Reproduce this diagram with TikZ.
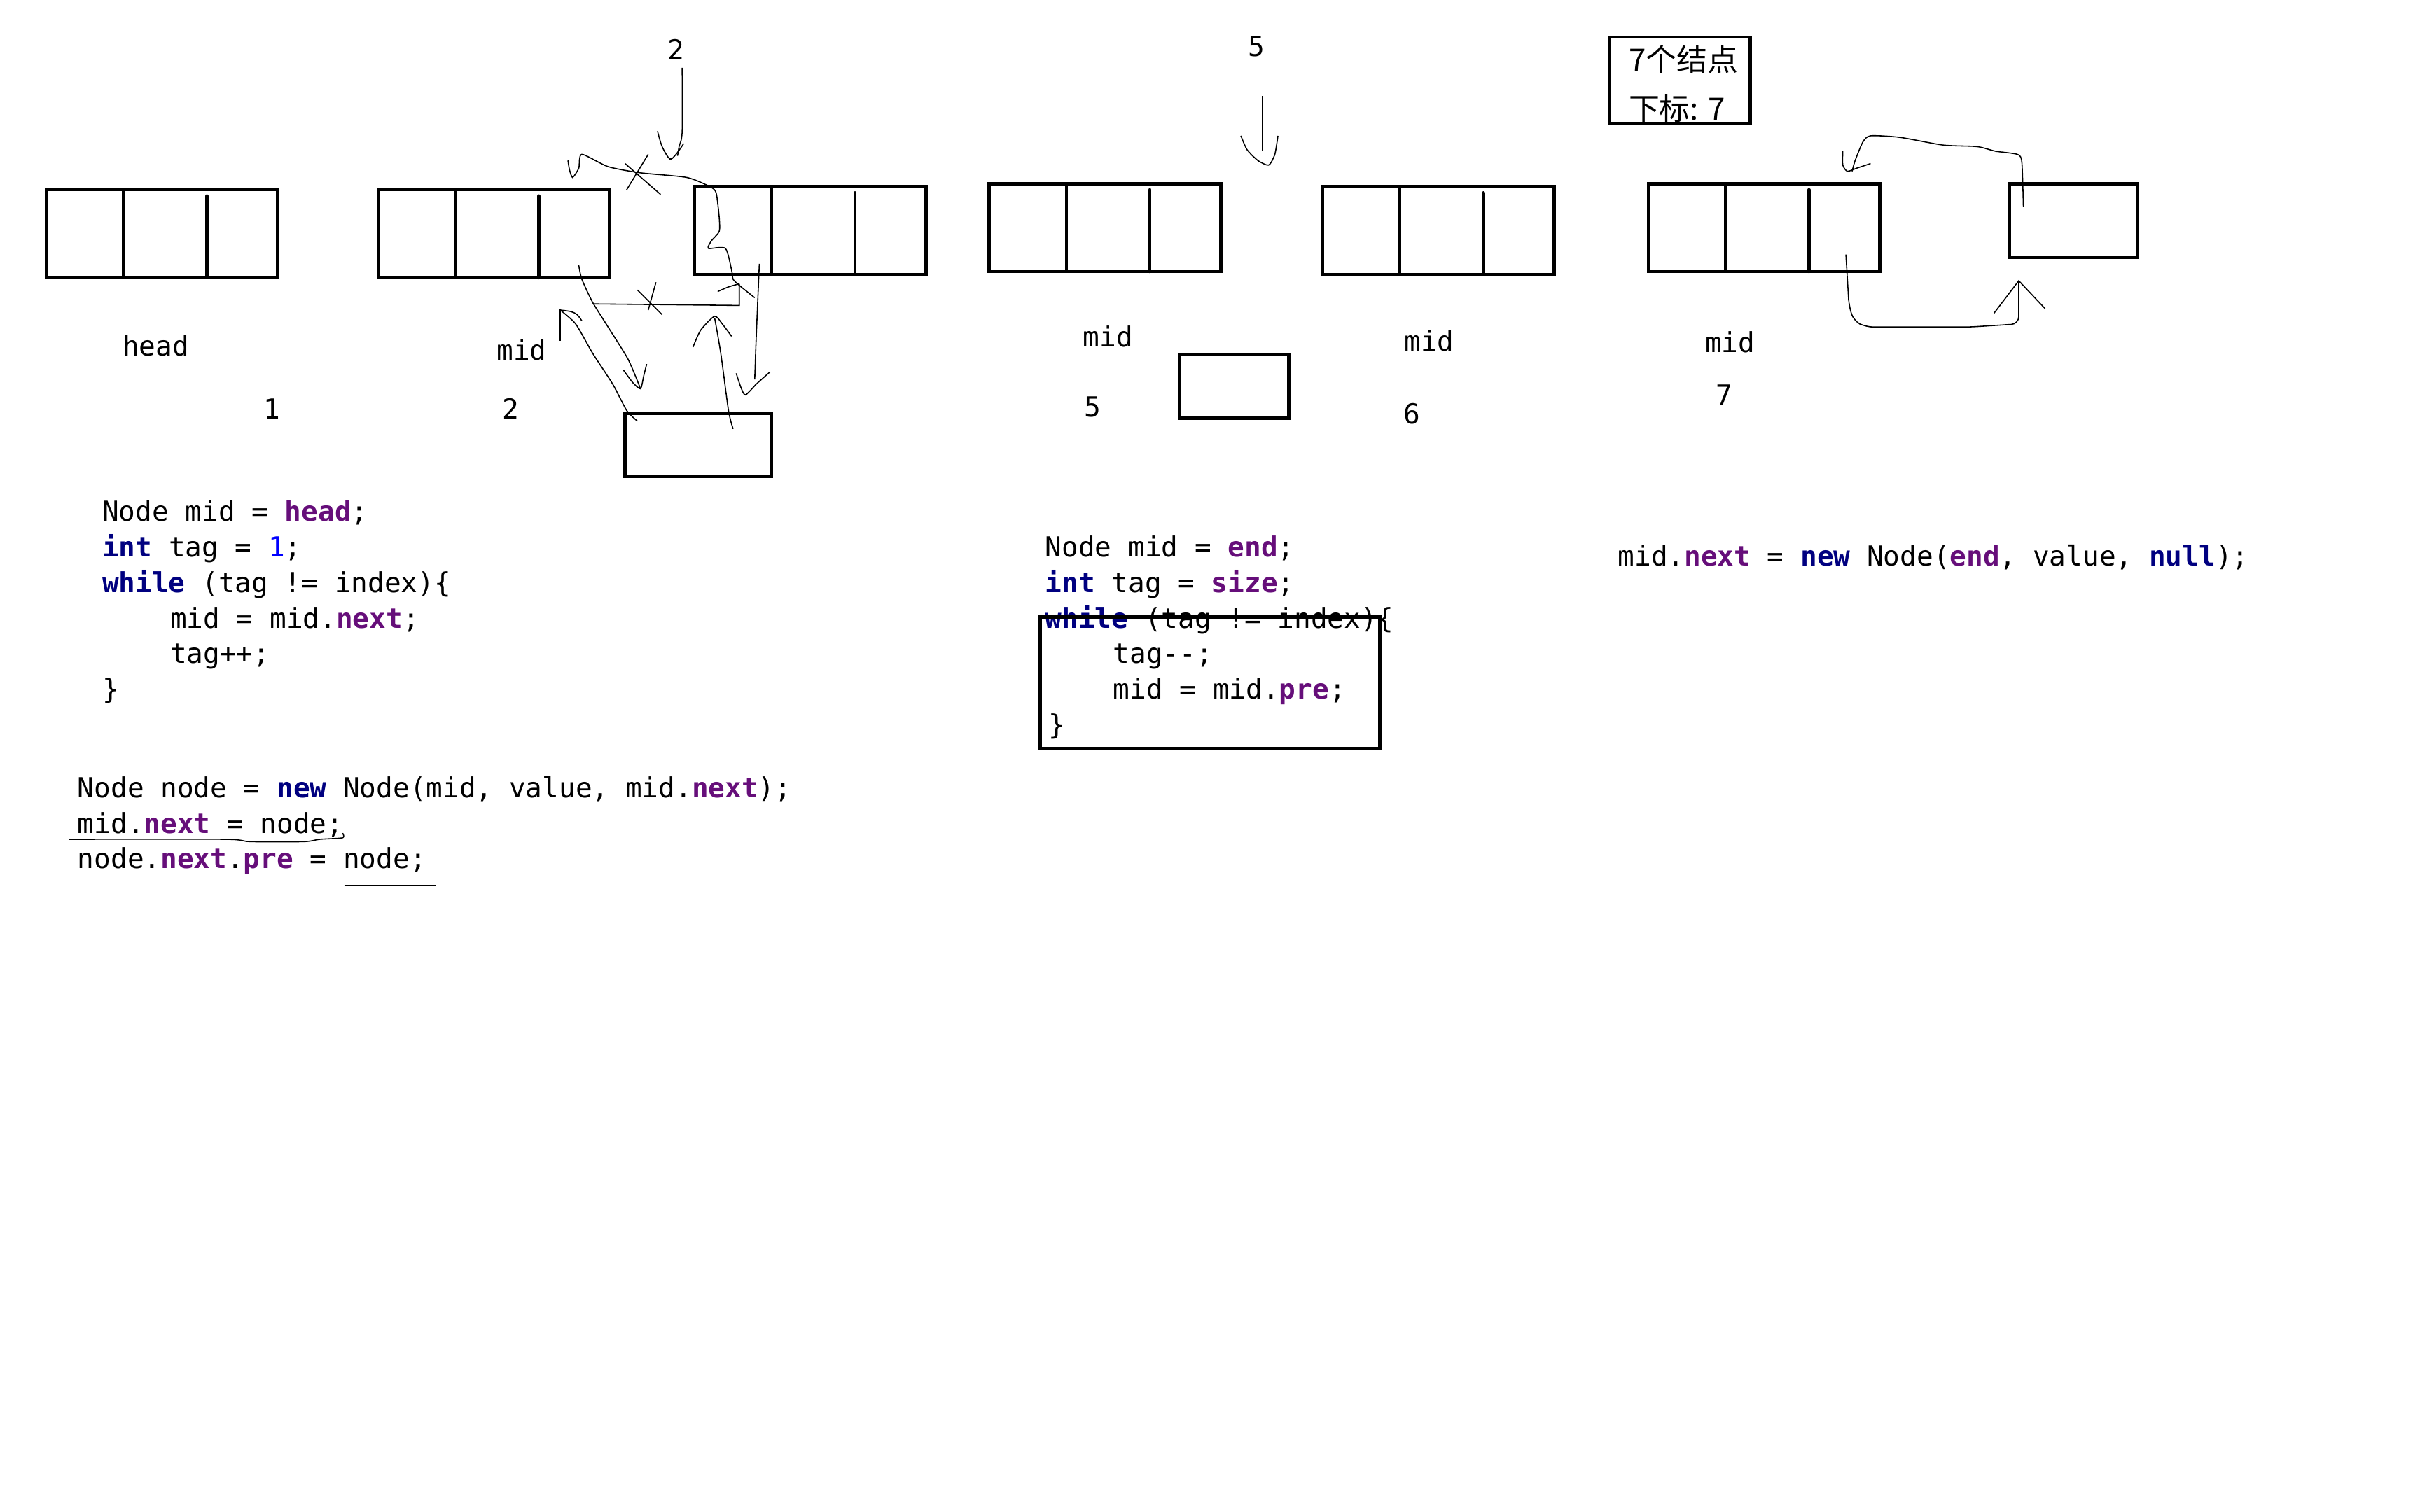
\documentclass[tikz,border=0pt]{standalone}
\usepackage{fontspec}
\newfontfamily\codefont{DejaVu Sans Mono}
\newfontfamily\cjk{Noto Sans CJK SC}
\usepackage{tikz}
\usetikzlibrary{calc}

\definecolor{kwnavy}{HTML}{000080}
\definecolor{fldpurple}{HTML}{660E7A}
\definecolor{numblue}{HTML}{0000FF}
\newcommand{\kw}[1]{\textcolor{kwnavy}{\bfseries #1}}
\newcommand{\fld}[1]{\textcolor{fldpurple}{\bfseries #1}}

\newlength{\px}
\setlength{\px}{0.022041cm}

\tikzset{
  box/.style={draw, line width=1.35pt, inner sep=0pt, outer sep=0pt, anchor=north west},
  nodebox/.style={box, minimum width=150*\px, minimum height=57*\px},
  wall/.style={line width=1.35pt},
  pen/.style={line width=0.45pt},
  code/.style={font=\codefont\fontsize{11.2}{14}\selectfont, inner sep=0pt, anchor=base west},
  lbl/.style={font=\codefont\fontsize{11.2}{14}\selectfont, inner sep=0pt},
  cjktext/.style={font=\cjk\fontsize{12.5}{15}\selectfont, inner sep=0pt, anchor=base west},
}

\begin{document}
\begin{tikzpicture}[x=0.022041cm,y=-0.022041cm]
\fill[white] (0,0) rectangle (1568,980);
\useasboundingbox (0,0) rectangle (1568,980);

\node[nodebox] (A) at (30,123) {};
\node[nodebox] (B) at (245,123) {};
\node[nodebox] (C) at (450,121) {};
\node[nodebox] (E) at (641,119) {};
\node[nodebox] (F) at (857,121) {};
\node[nodebox] (H) at (1068,119) {};
\foreach \b in {A,B,C,E,F,H}{
  \draw[wall] ($(\b.north west)+(50,0)$) -- ($(\b.south west)+(50,0)$);
  \draw[wall,line cap=round] ($(\b.north west)+(104,4)$) -- ($(\b.south west)+(104,0)$);
}
\node[box, minimum width=95*\px, minimum height=41*\px] (D) at (405,268) {};
\node[box, minimum width=71*\px, minimum height=41*\px] (G) at (764,230) {};
\node[box, minimum width=83*\px, minimum height=48*\px] (I) at (1302,119) {};
\node[box, minimum width=91*\px, minimum height=56*\px] (count) at (1043,24) {};

\node[cjktext] (cnt1) at (1055,46) {7个结点};
\node[cjktext] (cnt2) at (1055,78) {下标: 7};

\node[lbl] (headlbl) at (101,224) {head};
\node[lbl] (idx1) at (176,265) {1};
\node[lbl] (mid2) at (338,227) {mid};
\node[lbl] (idx2) at (331,265) {2};
\node[lbl] (top2) at (438,32) {2};
\node[lbl] (top5) at (814,30) {5};
\node[lbl] (mid5) at (718,218) {mid};
\node[lbl] (idx5) at (708,264) {5};
\node[lbl] (mid6) at (926,221) {mid};
\node[lbl] (idx6) at (915,268) {6};
\node[lbl] (mid7) at (1121,222) {mid};
\node[lbl] (idx7) at (1117,256) {7};

% walk from head
\node[code] (a1) at (66,338) {Node mid = \fld{head};};
\node[code] (a2) at (66,361) {\kw{int} tag = \textcolor{numblue}{1};};
\node[code] (a3) at (66,384) {\kw{while} (tag != index)\{};
\node[code] (a4) at (110,407) {mid = mid.\fld{next};};
\node[code] (a5) at (110,430) {tag++;};
\node[code] (a6) at (66,453) {\}};

\node[code] (b1) at (50,517) {Node node = \kw{new} Node(mid, value, mid.\fld{next});};
\node[code] (b2) at (50,540) {mid.\fld{next} = node;};
\node[code] (b3) at (50,563) {node.\fld{next}.\fld{pre} = node;};
\draw[pen] plot[smooth,tension=0.4] coordinates {(45,544) (146,544) (162,545.5) (197,545.5) (207,544) (222,543) (222,540)};
\draw[pen] (223,574) -- (282,574);

% walk from end
\node[code] (e1) at (677,361) {Node mid = \fld{end};};
\node[code] (e2) at (677,384) {\kw{int} tag = \fld{size};};
\node[code] (e3) at (677,407) {\kw{while} (tag != index)\{};
\node[code] (e4) at (721,430) {tag-{}-;};
\node[code] (e5) at (721,453) {mid = mid.\fld{pre};};
\node[code] (e6) at (679,476) {\}};
\node[box, minimum width=220*\px, minimum height=85*\px] (loop) at (674,400) {};

\node[code] (t1) at (1048,367) {mid.\fld{next} = \kw{new} Node(\fld{end}, value, \kw{null});};

% sketch strokes, index 2
\draw[pen] plot[smooth] coordinates {(442,44) (442,85) (440,95) (439,101)};
\draw[pen] plot[smooth] coordinates {(426,85) (429,95) (434,103) (438,100) (443,93)};
\draw[pen] plot[smooth,tension=0.4] coordinates {(489,193) (479,185) (475,181) (474,175) (470,161) (459,161) (461,156) (466,150) (466,141) (464,125) (460,121) (445,115) (415,112) (394,108) (377,100) (375,109) (371,115) (369,110) (368,104)};
\draw[pen] (405,106) -- (428,126);
\draw[pen] (420,100) -- (406,123);
\draw[pen] plot[smooth,tension=0.4] coordinates {(375,172) (377,181) (384,196) (394,212) (407,233) (415,252)};
\draw[pen] plot[smooth,tension=0.4] coordinates {(404,240) (410,248) (415,252) (417,244) (419,236)};
\draw[pen] (384,197) -- (479,198) -- (479,184);
\draw[pen] plot[smooth] coordinates {(465,189) (472,186) (479,184)};
\draw[pen] (413,188) -- (429,204);
\draw[pen] (425,183) -- (420,201);
\draw[pen] plot[smooth] coordinates {(492,171) (490,218) (489,246)};
\draw[pen] plot[smooth,tension=0.4] coordinates {(477,242) (480,251) (483,256) (490,249) (499,241)};
\draw[pen] plot[smooth,tension=0.4] coordinates {(413,273) (406,266) (397,249) (384,229) (373,210) (363,201)};
\draw[pen] (363,200) -- (363,221);
\draw[pen] plot[smooth] coordinates {(363,201) (370,202) (374,204) (377,208)};
\draw[pen] plot[smooth] coordinates {(475,278) (472,266) (467,229) (463,206)};
\draw[pen] plot[smooth,tension=0.4] coordinates {(449,225) (454,214) (463,205) (468,210) (474,218)};

% index 5
\draw[pen] (818,62) -- (818,98);
\draw[pen] plot[smooth,tension=0.4] coordinates {(804,88) (808,97) (815,104) (822,107) (826,100) (828,88)};

% index 7
\draw[pen] plot[smooth,tension=0.4] coordinates {(1311,134) (1310,105) (1307,100) (1293,98) (1281,95) (1259,94) (1231,89) (1212,88) (1207,92) (1202,104) (1200,111)};
\draw[pen] plot[smooth,tension=0.4] coordinates {(1194,98) (1194,107) (1197,111) (1203,109) (1212,106)};
\draw[pen,rounded corners=3pt] (1196,165) -- (1198,198) -- (1201,208) -- (1209,212) -- (1276,212) -- (1308,210) -- (1308,182);
\draw[pen] (1292,203) -- (1308,182) -- (1325,200);
\end{tikzpicture}
\end{document}
